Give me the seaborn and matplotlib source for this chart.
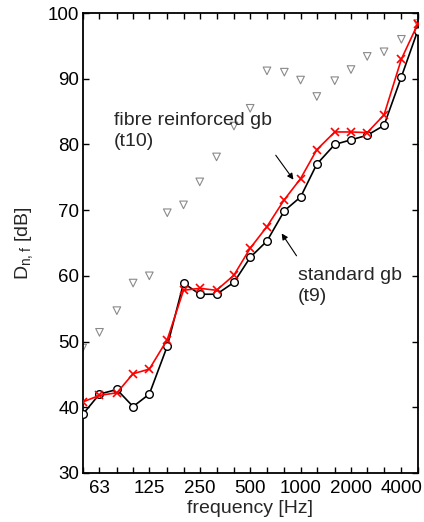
import numpy as np
import pandas as pd
import matplotlib
matplotlib.use("Agg")
import matplotlib.pyplot as plt
from matplotlib.ticker import FixedLocator, FixedFormatter, NullLocator
import seaborn as sns

# third-octave band centre frequencies [Hz]
freq = [50, 63, 80, 100, 125, 160, 200, 250, 315, 400, 500, 630, 800,
        1000, 1250, 1600, 2000, 2500, 3150, 4000, 5000]
# standard gb (t9)
standard_t9 = [38.9, 42.0, 42.7, 40.1, 42.0, 49.3, 58.9, 57.2, 57.2, 59.0, 62.8,
               65.3, 69.9, 72.0, 77.0, 80.0, 80.7, 81.4, 82.9, 90.3, 97.3]
# fibre reinforced gb (t10)
fibre_t10 = [40.8, 41.8, 42.2, 45.1, 45.8, 50.3, 57.8, 58.1, 57.8, 60.1, 64.2,
             67.5, 71.6, 74.8, 79.2, 81.9, 81.9, 81.8, 84.5, 93.0, 98.3]
# grey reference (triangles)
reference = [49.0, 51.4, 54.7, 58.9, 60.0, 69.6, 70.8, 74.3, 78.1, 82.8, 85.5,
             91.2, 91.0, 89.8, 87.3, 89.7, 91.4, 93.4, 94.1, 96.0, 98.4]

tick_labels = ["", "63", "", "", "125", "", "", "250", "", "", "500", "", "",
               "1000", "", "", "2000", "", "", "4000", ""]
yticks = [30, 40, 50, 60, 70, 80, 90, 100]

df = pd.DataFrame({"freq": freq, "t9": standard_t9, "t10": fibre_t10,
                   "ref": reference})

sns.set_style("ticks")
plt.rcParams["font.family"] = ["Liberation Sans", "DejaVu Sans"]
plt.rcParams["mathtext.default"] = "regular"

fig = plt.figure(figsize=(4.24, 5.22), dpi=100)
ax = fig.add_axes([0.195, 0.094, 0.790, 0.881])

sns.scatterplot(data=df, x="freq", y="ref", marker="v", s=30,
                facecolor="none", edgecolor="#8a8a8a", linewidth=0.8,
                ax=ax, zorder=2)
sns.lineplot(data=df, x="freq", y="t9", color="black", linewidth=1.2,
             marker="o", markersize=5.5, markerfacecolor="white",
             markeredgecolor="black", markeredgewidth=1.0, ax=ax, zorder=3)
sns.lineplot(data=df, x="freq", y="t10", color="red", linewidth=1.2,
             marker="x", markersize=6, markeredgecolor="red",
             markeredgewidth=1.2, ax=ax, zorder=4)

ax.set_xscale("log")
ax.set_xlim(50, 5000)
ax.set_ylim(30, 100)
ax.xaxis.set_major_locator(FixedLocator(freq))
ax.xaxis.set_major_formatter(FixedFormatter(tick_labels))
ax.xaxis.set_minor_locator(NullLocator())
ax.set_yticks(yticks)
ax.set_yticklabels([str(v) for v in yticks])

ax.tick_params(axis="both", which="major", direction="in", length=4,
               width=1.0, labelsize=13.5, top=True, right=True,
               colors="black")
ax.tick_params(axis="x", pad=5)
ax.tick_params(axis="y", pad=2.5)
for sp in ax.spines.values():
    sp.set_linewidth(1.3)
    sp.set_color("black")
    sp.set_visible(True)

ax.set_xlabel("frequency [Hz]", fontsize=14, labelpad=2)
ax.set_ylabel(r"D$_{n,f}$ [dB]", fontsize=14, labelpad=9)

ax.text(77, 82.0, "fibre reinforced gb\n(t10)", fontsize=14,
        ha="left", va="center", linespacing=1.3)
ax.annotate("", xy=(927, 74.3), xytext=(695, 78.7),
            arrowprops=dict(arrowstyle="-|>", color="black", lw=0.8,
                            mutation_scale=9))
ax.text(966, 58.5, "standard gb\n(t9)", fontsize=14,
        ha="left", va="center", linespacing=1.3)
ax.annotate("", xy=(755, 66.8), xytext=(966, 62.7),
            arrowprops=dict(arrowstyle="-|>", color="black", lw=0.8,
                            mutation_scale=9))

fig.savefig("out.png", dpi=100)
